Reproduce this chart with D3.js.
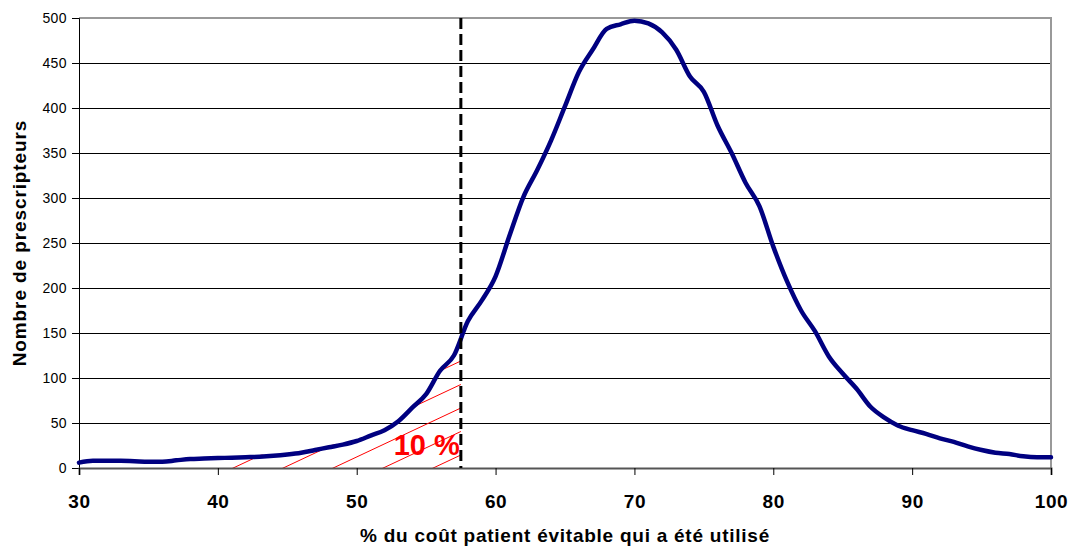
<!DOCTYPE html>
<html>
<head>
<meta charset="utf-8">
<script src="https://cdn.jsdelivr.net/npm/d3@7/dist/d3.min.js"></script>
<style>
  body { margin: 0; background: #fff; }
  text { font-family: "Liberation Sans", Arial, sans-serif; }
</style>
</head>
<body>
<div id="chart"></div>
<script>
// % du coût évitable utilisé (x) et nombre de prescripteurs (y)
var pct = [30,31,32,33,34,35,36,37,38,39,40,41,42,43,44,45,46,47,48,49,
           50,51,52,53,54,55,56,57,58,59,60,61,62,63,64,65,66,67,68,69,
           70,71,72,73,74,75,76,77,78,79,80,81,82,83,84,85,86,87,88,89,
           90,91,92,93,94,95,96,97,98,99,100];
var prescripteurs = [6,8,8,8,7.5,7,7,8.5,10,10.5,11,11.5,12,12.5,13.5,15,17,20,23,26,
                     30,36,42,52,67,82,108,125,163,186,213,258,301,331,364,402,440,465,488,493,
                     497,494,484,465,435,418,380,350,317,291,246,207,175,152,124,105,88,68,56,47,
                     42,38,33,29,24,20,17,15.5,13,12,12];
var xTicks = [30,40,50,60,70,80,90,100];
var yTicks = [0,50,100,150,200,250,300,350,400,450,500];
var seuil = 57.5;      // ligne pointillée
var debutHachure = 40; // début de la zone hachurée
var labelZone = "10 %";

var W = 1074, H = 547;
var m = {top: 18, right: 23, bottom: 79, left: 79};

var svg = d3.select("#chart").append("svg").attr("width", W).attr("height", H);

var x = d3.scaleLinear().domain([30, 100]).range([m.left, W - m.right]);
var y = d3.scaleLinear().domain([0, 500]).range([H - m.bottom, m.top]);

var data = pct.map(function(d, i) { return {x: d, y: prescripteurs[i]}; });

/* gridlines */
svg.append("g").selectAll("line")
    .data(yTicks.filter(function(d) { return d > 0 && d < 500; }))
    .enter().append("line")
    .attr("x1", x(30)).attr("x2", x(100))
    .attr("y1", function(d) { return y(d); }).attr("y2", function(d) { return y(d); })
    .attr("stroke", "#000").attr("stroke-width", 1)
    .attr("shape-rendering", "crispEdges");

/* plot border top + right */
svg.append("path")
    .attr("d", "M" + x(30) + "," + y(500) + "H" + x(100) + "V" + y(0))
    .attr("fill", "none").attr("stroke", "#999").attr("stroke-width", 1.5)
    .attr("shape-rendering", "crispEdges");

/* hatched zone under the curve */
var defs = svg.append("defs");
defs.append("clipPath").attr("id", "clipRect").append("rect")
    .attr("x", x(debutHachure)).attr("y", y(500))
    .attr("width", x(seuil) - x(debutHachure)).attr("height", y(0) - y(500));
var area = d3.area().x(function(d) { return x(d.x); }).y0(y(0)).y1(function(d) { return y(d.y) - 2; })
    .curve(d3.curveMonotoneX);
defs.append("clipPath").attr("id", "clipArea").append("path").attr("d", area(data));

var xs = x(seuil), slope = 0.47, step = 23.5;
var hatch = svg.append("g").attr("clip-path", "url(#clipRect)")
    .append("g").attr("clip-path", "url(#clipArea)");
hatch.selectAll("line")
    .data(d3.range(0, 16))
    .enter().append("line")
    .attr("x1", xs + 5).attr("y1", function(k) { return y(0) - 13 - step * k - 5 * slope; })
    .attr("x2", xs - 700).attr("y2", function(k) { return y(0) - 13 - step * k + 700 * slope; })
    .attr("stroke", "#ff0000").attr("stroke-width", 1);

/* axes */
var yAxis = svg.append("g").attr("transform", "translate(" + m.left + ",0)")
    .call(d3.axisLeft(y).tickValues(yTicks).tickSize(7).tickPadding(5));
yAxis.select(".domain").attr("stroke", "#000");
yAxis.selectAll("text").attr("font-size", 14).attr("letter-spacing", "0.4px")
    .attr("font-family", "Liberation Sans, Arial, sans-serif").attr("fill", "#000");

var xAxis = svg.append("g").attr("transform", "translate(0," + y(0) + ")")
    .call(d3.axisBottom(x).tickValues(xTicks).tickSize(7).tickPadding(20));
xAxis.select(".domain").attr("stroke", "#555").attr("stroke-width", 2);
xAxis.selectAll("text").attr("font-size", 19).attr("font-weight", "bold")
    .attr("letter-spacing", "0.6px")
    .attr("font-family", "Liberation Sans, Arial, sans-serif").attr("fill", "#000");

/* curve */
var line = d3.line().x(function(d) { return x(d.x); }).y(function(d) { return y(d.y); })
    .curve(d3.curveMonotoneX);
svg.append("path").datum(data)
    .attr("d", line)
    .attr("fill", "none").attr("stroke", "#000080").attr("stroke-width", 4.5)
    .attr("stroke-linejoin", "round").attr("stroke-linecap", "round");

/* zone label */
svg.append("text")
    .attr("x", x(seuil) - 1).attr("y", y(0) - 13)
    .attr("text-anchor", "end")
    .attr("font-size", 29).attr("font-weight", "bold").attr("fill", "#ff0000")
    .text(labelZone);

/* threshold dashed line */
svg.append("line")
    .attr("x1", x(seuil)).attr("x2", x(seuil))
    .attr("y1", y(500)).attr("y2", y(0))
    .attr("stroke", "#000").attr("stroke-width", 3).attr("stroke-dasharray", "11,5");

/* titles */
svg.append("text")
    .attr("transform", "translate(26," + ((y(0) + y(500)) / 2) + ") rotate(-90)")
    .attr("text-anchor", "middle")
    .attr("font-size", 19).attr("font-weight", "bold").attr("letter-spacing", "0.9px")
    .text("Nombre de prescripteurs");

svg.append("text")
    .attr("x", (x(30) + x(100)) / 2).attr("y", 542)
    .attr("text-anchor", "middle")
    .attr("font-size", 19).attr("font-weight", "bold").attr("letter-spacing", "0.75px")
    .text("% du coût patient évitable qui a été utilisé");
</script>
</body>
</html>
